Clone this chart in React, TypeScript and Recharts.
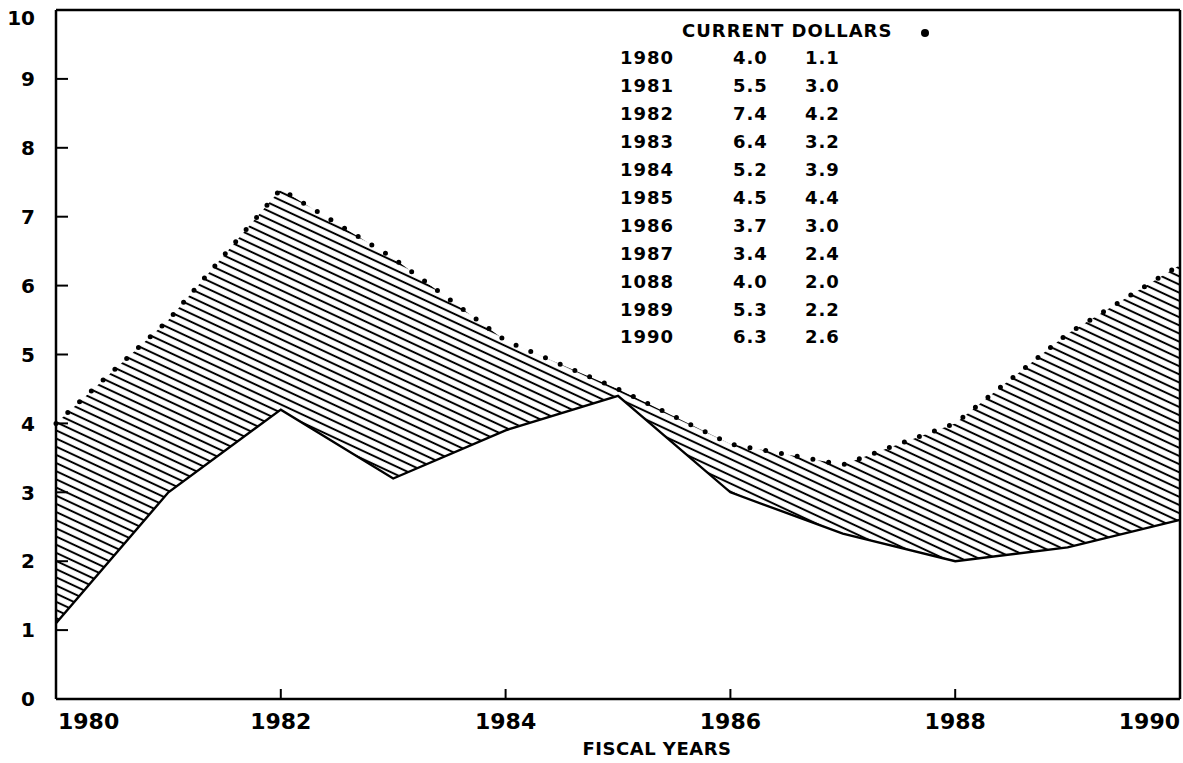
import React from 'react';
import { ComposedChart, Area, Line, XAxis, YAxis, ReferenceLine } from 'recharts';

const years = [1980, 1981, 1982, 1983, 1984, 1985, 1986, 1987, 1988, 1989, 1990];
const yearLabels = ['1980', '1981', '1982', '1983', '1984', '1985', '1986', '1987', '1088', '1989', '1990'];
const currentDollars = [4.0, 5.5, 7.4, 6.4, 5.2, 4.5, 3.7, 3.4, 4.0, 5.3, 6.3];
const constantDollars = [1.1, 3.0, 4.2, 3.2, 3.9, 4.4, 3.0, 2.4, 2.0, 2.2, 2.6];
const xTicks = [1980, 1982, 1984, 1986, 1988, 1990];
const yTicks = [0, 1, 2, 3, 4, 5, 6, 7, 8, 9, 10];
const tableHeader = 'CURRENT DOLLARS';
const xAxisTitle = 'FISCAL YEARS';

const data = years.map((y, i) => ({ year: y, current: currentDollars[i], constant: constantDollars[i] }));

const FONT = '"DejaVu Sans", sans-serif';

const XTick = (props: any) => {
  const { x, y, payload } = props;
  const v = payload.value;
  const anchor = v === 1980 ? 'start' : v === 1990 ? 'end' : 'middle';
  const axisY = y - 13;
  return (
    <g>
      {v !== 1980 && v !== 1990 && (
        <line x1={x} y1={axisY} x2={x} y2={axisY - 10} stroke="#000" strokeWidth={2} />
      )}
      <text x={v === 1980 ? x + 2 : x} y={y} dy="0.75em" textAnchor={anchor} fontFamily={FONT} fontWeight="bold" fontSize={22} fill="#000">
        {String(v)}
      </text>
    </g>
  );
};

const YTick = (props: any) => {
  const { x, y, payload } = props;
  const v = payload.value;
  const axisX = x + 21;
  return (
    <g>
      {v !== 0 && v !== 10 && (
        <line x1={axisX} y1={y} x2={axisX + 12} y2={y} stroke="#000" strokeWidth={2} />
      )}
      <text x={x} y={v === 10 ? y + 8 : y} dy="0.36em" textAnchor="end" fontFamily={FONT} fontWeight="bold" fontSize={20} fill="#000">
        {String(v)}
      </text>
    </g>
  );
};

export default function App() {
  const rowY0 = 58;
  const rowStep = 27.9;
  const tStyle = { fontFamily: FONT, fontWeight: 'bold' as const, fontSize: 18, letterSpacing: 1 };
  return (
    <div style={{ position: 'absolute', left: 0, top: 0, width: 1183, height: 763, background: '#fff' }}>
      <svg width={0} height={0} style={{ position: 'absolute' }}>
        <defs>
          <pattern id="hatch" patternUnits="userSpaceOnUse" width={12} height={7.4} patternTransform="rotate(25)">
            <line x1={0} y1={3.7} x2={12} y2={3.7} stroke="#000" strokeWidth={2} />
          </pattern>
        </defs>
      </svg>
      <ComposedChart width={1183} height={763} data={data} margin={{ top: 10, right: 3, left: 0, bottom: 0 }}>
        <XAxis
          dataKey="year"
          type="number"
          domain={[1980, 1990]}
          ticks={xTicks}
          height={64}
          tickSize={0}
          tickMargin={13}
          tickLine={false}
          axisLine={{ stroke: '#000', strokeWidth: 2.5 }}
          tick={<XTick />}
          interval={0}
        />
        <YAxis
          type="number"
          domain={[0, 10]}
          ticks={yTicks}
          width={56}
          tickSize={0}
          tickMargin={21}
          tickLine={false}
          axisLine={{ stroke: '#000', strokeWidth: 2.5 }}
          tick={<YTick />}
          interval={0}
        />
        <Area
          dataKey={(d: any) => [d.constant, d.current]}
          type="linear"
          stroke="none"
          fill="url(#hatch)"
          fillOpacity={1}
          isAnimationActive={false}
        />
        <Line
          dataKey="constant"
          type="linear"
          stroke="#000"
          strokeWidth={2.4}
          dot={false}
          isAnimationActive={false}
        />
        <Line
          dataKey="current"
          type="linear"
          stroke="#000"
          strokeWidth={5}
          strokeDasharray="0 16"
          strokeLinecap="round"
          dot={false}
          isAnimationActive={false}
        />
        <ReferenceLine y={10} stroke="#000" strokeWidth={2.5} />
        <ReferenceLine x={1990} stroke="#000" strokeWidth={2.5} />
      </ComposedChart>
      <svg width={1183} height={763} style={{ position: 'absolute', left: 0, top: 0, pointerEvents: 'none' }}>
        <text x={682} y={31} dy="0.36em" {...tStyle} fill="#000" style={{ whiteSpace: 'pre' }}>
          {tableHeader}
        </text>
        <circle cx={925} cy={33} r={4} fill="#000" />
        {yearLabels.map((lbl, i) => (
          <g key={lbl + i}>
            <text x={620} y={rowY0 + i * rowStep} dy="0.36em" {...tStyle} fill="#000">
              {lbl}
            </text>
            <text x={733} y={rowY0 + i * rowStep} dy="0.36em" {...tStyle} fill="#000">
              {currentDollars[i].toFixed(1)}
            </text>
            <text x={805} y={rowY0 + i * rowStep} dy="0.36em" {...tStyle} fill="#000">
              {constantDollars[i].toFixed(1)}
            </text>
          </g>
        ))}
        <text x={657} y={749} dy="0.36em" textAnchor="middle" fontFamily={FONT} fontWeight="bold" fontSize={18} letterSpacing={0.5} fill="#000" style={{ whiteSpace: 'pre' }}>
          {xAxisTitle}
        </text>
      </svg>
    </div>
  );
}
